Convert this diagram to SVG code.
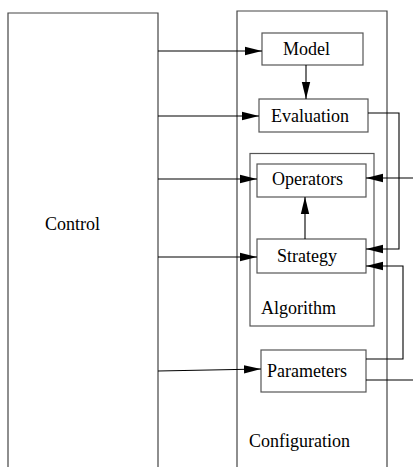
<svg xmlns="http://www.w3.org/2000/svg" width="413" height="467" viewBox="0 0 413 467">
<style>
.box{fill:#fff;stroke:#555;stroke-width:1.2}
.frame{fill:none;stroke:#444;stroke-width:1.2}
.con{fill:none;stroke:#000;stroke-width:1.1;marker-end:url(#ah)}
.plain{fill:none;stroke:#000;stroke-width:1.1}
text{font-family:"Liberation Serif","Times New Roman",serif;font-size:18px;fill:#000}
</style>
<defs>
<marker id="ah" markerUnits="userSpaceOnUse" markerWidth="18" markerHeight="10" refX="17" refY="5" orient="auto">
<path d="M0,0.8 L17,5 L0,9.2 Z" fill="#000"/>
</marker>
</defs>
<rect width="413" height="467" fill="#fff"/>
<g id="control">
<path class="frame" d="M8,467 V13 H158 V467"/>
<text x="45" y="230">Control</text>
</g>
<g id="configuration">
<path class="frame" d="M237,467 V11 H387 V467"/>
<text x="249" y="447">Configuration</text>
</g>
<g id="algorithm">
<rect class="box" x="250" y="153.5" width="124" height="172.5"/>
<text x="261" y="314">Algorithm</text>
</g>
<g id="model">
<rect class="box" x="262" y="33" width="101" height="32"/>
<text x="283" y="55">Model</text>
</g>
<g id="evaluation">
<rect class="box" x="259" y="99" width="109" height="33"/>
<text x="271" y="122">Evaluation</text>
</g>
<g id="operators">
<rect class="box" x="257" y="164" width="109" height="33"/>
<text x="272" y="185">Operators</text>
</g>
<g id="strategy">
<rect class="box" x="257" y="239" width="109" height="34"/>
<text x="277" y="262">Strategy</text>
</g>
<g id="parameters">
<rect class="box" x="261" y="350" width="105" height="42"/>
<text x="267" y="377">Parameters</text>
</g>
<g id="connectors">
<path class="con" d="M158,51 H262"/>
<path class="con" d="M306,65 V99"/>
<path class="con" d="M158,116 H259"/>
<path class="con" d="M158,179 H257"/>
<path class="con" d="M158,257 H257"/>
<path class="con" d="M305,239 V197"/>
<path class="con" d="M368,113 H399 V249 H366"/>
<path class="con" d="M413,178 H366"/>
<path class="con" d="M366,359 H403 V266 H366"/>
<path class="plain" d="M366,380 H413"/>
<path class="con" d="M158,371 L261,369"/>
</g>
</svg>
